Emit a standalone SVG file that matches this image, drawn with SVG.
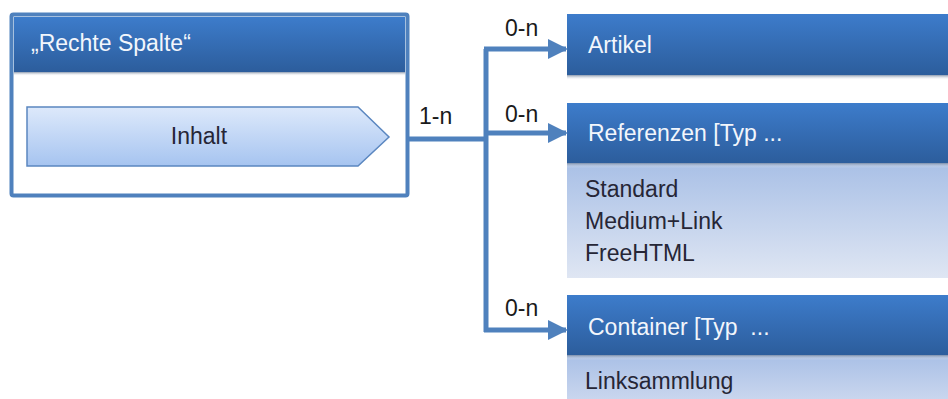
<svg xmlns="http://www.w3.org/2000/svg" width="948" height="399" viewBox="0 0 948 399">
<defs>
<linearGradient id="hdr" x1="0" y1="0" x2="0" y2="1">
<stop offset="0" stop-color="#3d7ccb"/>
<stop offset="1" stop-color="#2c5d9c"/>
</linearGradient>
<linearGradient id="body" x1="0" y1="0" x2="0" y2="1">
<stop offset="0" stop-color="#a9c0e6"/>
<stop offset="1" stop-color="#dfe6f3"/>
</linearGradient>
<linearGradient id="body2" x1="0" y1="0" x2="0" y2="1">
<stop offset="0" stop-color="#a9c0e6"/>
<stop offset="1" stop-color="#c9d6ee"/>
</linearGradient>
<linearGradient id="pent" x1="0" y1="0" x2="0" y2="1">
<stop offset="0" stop-color="#dde9fb"/>
<stop offset="1" stop-color="#a6c4f0"/>
</linearGradient>
<linearGradient id="shadow" x1="0" y1="0" x2="0" y2="1">
<stop offset="0" stop-color="#6d7f99" stop-opacity="0.8"/>
<stop offset="1" stop-color="#ffffff" stop-opacity="0"/>
</linearGradient>
<marker id="arr" viewBox="0 0 10 10" refX="9" refY="5" markerWidth="4" markerHeight="4" markerUnits="strokeWidth" orient="auto">
<path d="M0,0 L10,5 L0,10 z" fill="#4f81bd"/>
</marker>
</defs>
<style>
text { font-family: "Liberation Sans", Arial, sans-serif; font-size: 23px; }
.hdrtxt { fill: #f2f6fc; }
.dark { fill: #262636; }
.lbl { fill: #1a1a1a; }
.conn { fill: none; stroke: #4f81bd; stroke-width: 5; }
</style>
<rect width="948" height="399" fill="#ffffff"/>

<g id="rechte-spalte">
<rect x="11.5" y="14.5" width="396" height="181" fill="#ffffff" stroke="#4f81bd" stroke-width="4" rx="2"/>
<rect x="14" y="17" width="391" height="55" fill="url(#hdr)"/>
<rect x="14" y="72" width="391" height="4" fill="url(#shadow)"/>
<text x="31" y="51" class="hdrtxt">„Rechte Spalte“</text>
</g>

<g id="inhalt">
<path d="M27,107 L358,107 L389,137 L358,166 L27,166 Z" fill="url(#pent)" stroke="#5b87c0" stroke-width="1.5"/>
<text x="199" y="144" text-anchor="middle" class="dark">Inhalt</text>
</g>

<g id="artikel">
<rect x="567" y="14" width="381" height="61" fill="url(#hdr)"/>
<rect x="567" y="75" width="381" height="5" fill="url(#shadow)"/>
<text x="588" y="53" class="hdrtxt">Artikel</text>
</g>

<g id="referenzen">
<rect x="567" y="163" width="381" height="115" fill="url(#body)"/>
<rect x="567" y="103" width="381" height="60" fill="url(#hdr)"/>
<rect x="567" y="163" width="381" height="5" fill="url(#shadow)"/>
<text x="588" y="141" class="hdrtxt">Referenzen [Typ ...</text>
<text x="585" y="197" class="dark">Standard</text>
<text x="585" y="229" class="dark">Medium+Link</text>
<text x="585" y="261" class="dark">FreeHTML</text>
</g>

<g id="container">
<rect x="567" y="355" width="381" height="44" fill="url(#body2)"/>
<rect x="567" y="295" width="381" height="60" fill="url(#hdr)"/>
<rect x="567" y="355" width="381" height="5" fill="url(#shadow)"/>
<text x="588" y="335" class="hdrtxt">Container [Typ &#160;...</text>
<text x="585" y="389" class="dark">Linksammlung</text>
</g>

<g id="connectors">
<path class="conn" d="M408,139 L486,139"/>
<path class="conn" d="M486,332 L486,49"/>
<path class="conn" d="M484,49 L566,49" marker-end="url(#arr)"/>
<path class="conn" d="M486,133 L566,133" marker-end="url(#arr)"/>
<path class="conn" d="M484,330 L566,330" marker-end="url(#arr)"/>
<text x="419" y="124" class="lbl">1-n</text>
<text x="505" y="36" class="lbl">0-n</text>
<text x="505" y="122" class="lbl">0-n</text>
<text x="505" y="316" class="lbl">0-n</text>
</g>
</svg>
